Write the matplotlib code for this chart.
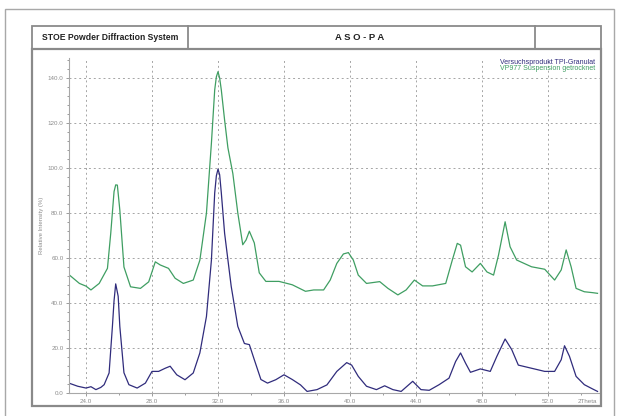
import matplotlib
matplotlib.use("Agg")
import matplotlib.pyplot as plt
from matplotlib.patches import Rectangle
from matplotlib.lines import Line2D
from matplotlib.ticker import MultipleLocator, FormatStrFormatter

plt.rcParams['font.family'] = ['Liberation Sans', 'DejaVu Sans']

# ---- data ----
blue_label = "Versuchsprodukt TPI-Granulat"
green_label = "VP977 Suspension getrocknet"

blue_2theta = [23.0, 23.5, 24.0, 24.3, 24.6, 24.9, 25.1, 25.4, 25.6, 25.7, 25.8, 25.95, 26.05, 26.3, 26.6,
               27.1, 27.6, 28.0, 28.4, 28.8, 29.1, 29.5, 30.0, 30.5, 30.9, 31.3, 31.6, 31.8,
               31.9, 32.0, 32.1, 32.2, 32.4, 32.8, 33.2, 33.6, 33.9, 34.2, 34.6, 35.0, 35.5, 36.0, 36.5,
               37.0, 37.4, 38.0, 38.6, 39.2, 39.8, 40.1, 40.5, 41.0, 41.6, 42.1, 42.6, 43.1,
               43.8, 44.3, 44.8, 45.4, 46.0, 46.4, 46.7, 47.0, 47.3, 47.9, 48.5, 48.9, 49.4,
               49.8, 50.2, 51.0, 51.8, 52.4, 52.8, 53.0, 53.3, 53.7, 54.2, 54.7, 55.0]
blue_int = [4.3, 3.0, 2.2, 2.8, 1.5, 2.5, 3.7, 8.9, 29.5, 41.0, 48.5, 43.0, 29.6, 9.0, 3.7,
            2.2, 4.4, 9.6, 9.6, 11.0, 11.9, 8.1, 5.9, 8.9, 17.8, 34.0, 59.0, 88.9,
            96.5, 99.5, 97.0, 89.0, 71.0, 47.4, 29.6, 22.0, 21.5, 14.8, 6.0, 4.4, 5.9, 8.1, 6.0,
            3.6, 0.7, 1.5, 3.6, 9.6, 13.5, 12.4, 7.4, 3.0, 1.5, 3.2, 1.5, 0.7,
            5.2, 1.5, 1.2, 3.7, 6.6, 14.0, 17.8, 13.3, 9.2, 10.7, 9.6, 16.3, 24.0,
            19.3, 12.4, 11.0, 9.6, 9.6, 14.8, 21.0, 16.3, 7.4, 3.7, 1.8, 0.7]

green_2theta = [23.0, 23.6, 24.0, 24.3, 24.8, 25.3, 25.5, 25.7, 25.8, 25.9, 26.05, 26.3, 26.7,
                27.3, 27.8, 28.2, 28.5, 29.0, 29.4, 29.9, 30.5, 30.9, 31.3, 31.6, 31.8,
                31.9, 32.0, 32.1, 32.2, 32.4, 32.6, 32.9, 33.2, 33.5, 33.7, 33.9, 34.2, 34.5, 34.9,
                35.7, 36.5, 37.3, 37.8, 38.4, 38.8, 39.2, 39.6, 39.9, 40.2, 40.5, 41.0,
                41.8, 42.3, 42.9, 43.4, 43.9, 44.4, 45.0, 45.8, 46.2, 46.5, 46.7, 47.0,
                47.4, 47.9, 48.3, 48.7, 49.0, 49.4, 49.7, 50.1, 51.0, 51.8, 52.4, 52.8,
                53.1, 53.4, 53.7, 54.2, 54.7, 55.0]
green_int = [52.4, 48.7, 47.5, 45.8, 48.7, 55.4, 71.0, 89.5, 92.5, 92.4, 81.3, 56.0, 47.2,
             46.5, 49.4, 58.3, 56.9, 55.4, 51.0, 48.7, 50.2, 59.0, 80.0, 111.0, 134.7,
             140.5, 142.8, 140.0, 134.7, 121.3, 109.0, 97.5, 80.0, 65.9, 68.0, 71.9, 66.7, 53.4, 49.6,
             49.6, 48.1, 45.2, 45.8, 45.8, 50.2, 57.6, 61.8, 62.4, 59.1, 52.4, 48.7,
             49.5, 46.5, 43.6, 45.8, 50.2, 47.6, 47.6, 48.7, 59.1, 66.5, 65.7, 56.1,
             53.8, 57.6, 53.8, 52.4, 61.3, 76.1, 65.0, 59.1, 56.1, 55.0, 50.2, 54.7,
             63.6, 56.1, 46.5, 45.0, 44.6, 44.3]

y_ticks = [0, 20, 40, 60, 80, 100, 120, 140]
x_ticks = [24, 28, 32, 36, 40, 44, 48, 52]

W, H = 619, 416
fig = plt.figure(figsize=(W / 100, H / 100), dpi=100)

def fx(px):
    return px / W

def fy(py):
    return 1 - py / H

frame_col = "#8a8a8a"
tick_col = "#8c8c8c"
blue_col = "#302c7c"
green_col = "#3f9e62"

# outer frame
fig.patches.append(Rectangle((fx(5), fy(430)), fx(614) - fx(5), fy(9) - fy(430),
                             transform=fig.transFigure, fill=False, ec="#a8a8a8", lw=1.0))
# header box
fig.patches.append(Rectangle((fx(32), fy(49)), fx(601) - fx(32), fy(26) - fy(49),
                             transform=fig.transFigure, fill=False, ec=frame_col, lw=1.3))
for xd in (188, 535):
    fig.lines.append(Line2D([fx(xd), fx(xd)], [fy(26), fy(49)], transform=fig.transFigure,
                            color=frame_col, lw=1.3))
# panel frame
fig.patches.append(Rectangle((fx(32), fy(406)), fx(601) - fx(32), fy(49) - fy(406),
                             transform=fig.transFigure, fill=False, ec=frame_col, lw=1.6))

fig.text(fx(110), fy(38), "STOE Powder Diffraction System", ha="center", va="center",
         fontsize=6.2, fontweight="bold", color="#222222")
fig.text(fx(360), fy(38), "A S O - P A", ha="center", va="center",
         fontsize=6.8, fontweight="bold", color="#222222")

# axes
ax_left, ax_right = 69, 600
ax_bottom, ax_top = 393, 58
ax = fig.add_axes([fx(ax_left), fy(ax_bottom), fx(ax_right) - fx(ax_left), fy(ax_top) - fy(ax_bottom)])
ax.set_facecolor("none")
ax.set_xlim(22.97, 55.15)
ax.set_ylim(0, (ax_bottom - ax_top) / 2.25)

ax.plot(green_2theta, green_int, color=green_col, lw=0.9)
ax.plot(blue_2theta, blue_int, color=blue_col, lw=0.9)

ax.set_xticks(x_ticks)
ax.set_yticks(y_ticks)
ax.xaxis.set_major_formatter(FormatStrFormatter("%.1f"))
ax.yaxis.set_major_formatter(FormatStrFormatter("%.1f"))
ax.xaxis.set_minor_locator(MultipleLocator(2))
ax.yaxis.set_minor_locator(MultipleLocator(4))
ax.tick_params(axis="both", which="both", colors=tick_col, labelsize=4.5, length=2, width=0.6,
               direction="out", pad=2)
ax.tick_params(axis="both", which="minor", length=1.5)
ax.grid(True, which="major", color="#a5a5a5", linestyle=(0, (2, 3)), lw=0.7)

for s in ("top", "right"):
    ax.spines[s].set_visible(False)
for s in ("left", "bottom"):
    ax.spines[s].set_color("#a8a8a8")
    ax.spines[s].set_linewidth(0.8)

ax.text(54.4, -2.6, "2Theta", ha="center", va="top", fontsize=4.5, color=tick_col)
fig.text(fx(41), fy(225), "Relative Intensity (%)", rotation=90, ha="center", va="center",
         fontsize=4.3, color=tick_col)

fig.text(fx(595), fy(62), blue_label, ha="right", va="center", fontsize=5.0, color=blue_col)
fig.text(fx(595), fy(69), green_label, ha="right", va="center", fontsize=5.0, color=green_col)

fig.savefig("out.png", dpi=100)
